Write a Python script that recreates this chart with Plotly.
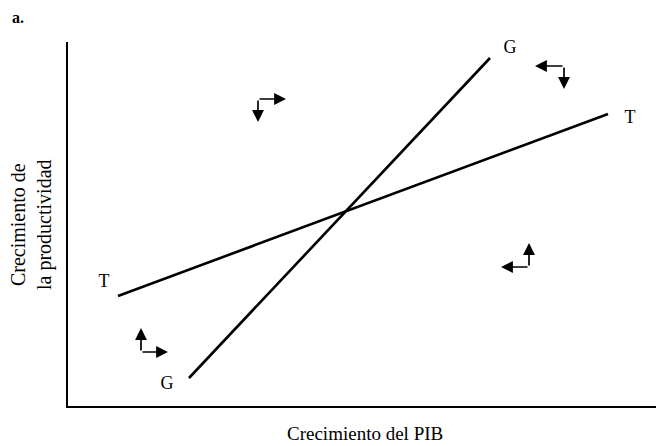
import plotly.graph_objects as go

# Schematic coordinates (arbitrary units)
g_x = [121, 422]
g_y = [28, 348]
t_x = [50, 540]
t_y = [110, 292]

line_labels = ["T", "G", "G", "T"]
label_x = [36, 99, 442, 562]
label_y = [124, 22, 358, 288]

# Arrow pairs: corner, then two tips
corner_x = [190, 496, 461, 73]
corner_y = [307, 340, 139, 54]
tip1_x = [190, 467, 461, 73]
tip1_y = [284, 340, 163, 78]
tip2_x = [218, 496, 433, 100]
tip2_y = [307, 317, 139, 54]

font = "Liberation Serif"

# figure geometry (page has an 8px body margin)
W, H = 656, 438
ML, MR, MT, MB = 60, 0, 34, 40
PW, PH = W - ML - MR, H - MT - MB


def px(x):
    return (x - 8 - ML) / PW


def py(y):
    return (H - MB - (y - 8)) / PH


fig = go.Figure()
fig.add_trace(go.Scatter(x=g_x, y=g_y, mode="lines", line=dict(color="black", width=2.6),
                         showlegend=False, hoverinfo="skip"))
fig.add_trace(go.Scatter(x=t_x, y=t_y, mode="lines", line=dict(color="black", width=2.6),
                         showlegend=False, hoverinfo="skip"))
fig.add_trace(go.Scatter(x=label_x, y=label_y, mode="text", text=line_labels, cliponaxis=False,
                         textfont=dict(family=font, size=18, color="black"),
                         showlegend=False, hoverinfo="skip"))

for cx, cy, ax1, ay1, ax2, ay2 in zip(corner_x, corner_y, tip1_x, tip1_y, tip2_x, tip2_y):
    for tx, ty in ((ax1, ay1), (ax2, ay2)):
        fig.add_annotation(x=tx, y=ty, ax=cx, ay=cy, xref="x", yref="y", axref="x", ayref="y",
                           showarrow=True, arrowhead=2, arrowsize=1.4, arrowwidth=1.7,
                           arrowcolor="black", text="")

fig.add_annotation(text="<b>a.</b>", x=px(18), y=py(17), xref="paper", yref="paper", showarrow=False,
                   xanchor="center", yanchor="middle",
                   font=dict(family=font, size=16, color="black"))
fig.add_annotation(text="Crecimiento del PIB", x=px(365), y=py(433), xref="paper", yref="paper",
                   showarrow=False, xanchor="center", yanchor="middle",
                   font=dict(family=font, size=19, color="black"))
fig.add_annotation(text="Crecimiento de<br>la productividad", x=px(31), y=py(225), xref="paper", yref="paper",
                   showarrow=False, xanchor="center", yanchor="middle", textangle=-90,
                   font=dict(family=font, size=20, color="black"))

fig.update_layout(
    width=W, height=H,
    margin=dict(l=ML, r=MR, t=MT, b=MB),
    paper_bgcolor="white", plot_bgcolor="white",
    xaxis=dict(range=[0, 596], showgrid=False, zeroline=False, showticklabels=False, ticks="",
               showline=True, linecolor="black", linewidth=2, automargin=False),
    yaxis=dict(range=[0, 364], showgrid=False, zeroline=False, showticklabels=False, ticks="",
               showline=True, linecolor="black", linewidth=2, automargin=False),
)

fig.write_html("out.html")
